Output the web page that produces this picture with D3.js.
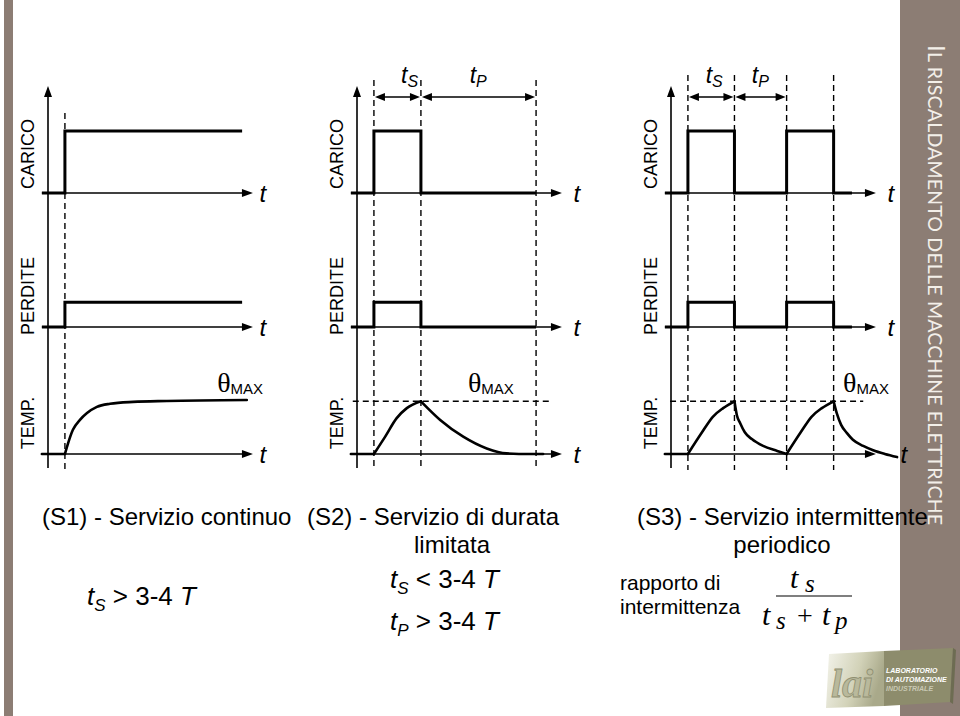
<!DOCTYPE html>
<html><head><meta charset="utf-8">
<script src="https://cdn.jsdelivr.net/npm/d3@7"></script>
<style>html,body{margin:0;padding:0;background:#fff}svg{display:block}</style>
</head><body>
<svg id="c" width="960" height="716"></svg>
<script>
// ---------------- DATA (time in units of ~t_S, levels relative to CARICO=1) ----------------
const rowNames = ["CARICO", "PERDITE", "TEMP."];
const caricoLevel = 1.0;
const perditeLevel = 0.40;
const thetaMax = 0.85;

// switching instants (dashed lines)
const s1Events = [0.36];
const s2Events = [0.36, 1.36, 3.81];
const s3Events = [0.36, 1.35, 2.46, 3.46];

// on/off load profiles (step after)
const s1Load = [[-0.13, 0], [0.36, 1], [4.13, 1]];
const s2Load = [[-0.13, 0], [0.36, 1], [1.36, 0], [3.81, 0]];
const s3Load = [[-0.13, 0], [0.36, 1], [1.35, 0], [2.46, 1], [3.46, 0], [3.85, 0]];

// temperature traces, one array per smooth segment
const s1Temp = [
  [[-0.13, 0], [0.36, 0]],
  [[0.36, 0], [0.43, 0.18], [0.53, 0.39], [0.68, 0.55], [0.83, 0.66], [1.04, 0.76], [1.32, 0.81], [1.81, 0.84], [2.53, 0.855], [4.23, 0.87]]
];
const s2Temp = [
  [[-0.13, 0], [0.36, 0]],
  [[0.36, 0], [0.60, 0.28], [0.84, 0.575], [1.06, 0.74], [1.36, 0.85]],
  [[1.36, 0.85], [1.77, 0.55], [2.26, 0.28], [2.76, 0.09], [3.18, 0.01], [3.68, 0], [3.96, 0]]
];
const s3Temp = [
  [[-0.13, 0], [0.36, 0]],
  [[0.36, 0], [0.66, 0.35], [0.89, 0.60], [1.11, 0.74], [1.35, 0.85]],
  [[1.35, 0.85], [1.40, 0.63], [1.47, 0.50], [1.57, 0.35], [1.72, 0.24], [1.96, 0.13], [2.26, 0.05], [2.46, 0]],
  [[2.46, 0], [2.76, 0.35], [2.99, 0.60], [3.21, 0.74], [3.46, 0.85]],
  [[3.46, 0.85], [3.53, 0.65], [3.62, 0.47], [3.74, 0.34], [3.87, 0.23], [4.09, 0.13], [4.30, 0.06], [4.55, 0], [4.81, -0.05]]
];

// theta_max reference line extents
const s2ThetaLine = [-0.09, 4.15];
const s3ThetaLine = [-0.02, 4.09];

// dimension spans
const s2Spans = [{sub: "S", from: 0.36, to: 1.36, at: 1.12}, {sub: "P", from: 1.36, to: 3.81, at: 2.58}];
const s3Spans = [{sub: "S", from: 0.36, to: 1.35, at: 0.92}, {sub: "P", from: 1.35, to: 2.46, at: 1.90}];

// ---------------- LAYOUT ----------------
const W = 960, H = 716;
const UNIT = 47, AXLEN = 4.36, AXSTART = -0.13;
const rowBase = [193, 327, 454];
const rowAmp = 62;
const rowLabelY = [154, 296, 423];
const ink = "#000";
const SANS = "'Liberation Sans', Arial, Helvetica, sans-serif";
const SERIF = "'Liberation Serif', 'Times New Roman', serif";
const brown = "#8c7d74";

const panels = [
  {x0: 48, load: s1Load, events: s1Events, dashTop: 113, temp: s1Temp, thetaLine: null, thetaAt: 3.6, tDx: [10, 10, 10], spans: []},
  {x0: 357, load: s2Load, events: s2Events, dashTop: 80, temp: s2Temp, thetaLine: s2ThetaLine, thetaAt: 2.36, tDx: [15, 15, 15], spans: s2Spans},
  {x0: 671, load: s3Load, events: s3Events, dashTop: 75, temp: s3Temp, thetaLine: s3ThetaLine, thetaAt: 3.66, tDx: [15, 15, 28], spans: s3Spans}
];

const svg = d3.select("#c");
svg.append("rect").attr("width", W).attr("height", H).attr("fill", "#fff");

// side bars
svg.append("rect").attr("x", 4).attr("y", 0).attr("width", 9).attr("height", H).attr("fill", brown);
svg.append("rect").attr("x", 900).attr("y", 0).attr("width", 60).attr("height", H).attr("fill", brown);
const side = svg.append("text")
  .attr("transform", "translate(928,45) rotate(90)")
  .attr("font-family", "Lato, 'Open Sans', sans-serif")
  .attr("fill", "#f3efe9")
  .attr("textLength", 480).attr("lengthAdjust", "spacing");
side.append("tspan").attr("font-size", 24).text("I");
side.append("tspan").attr("font-size", 19.5).text("L RISCALDAMENTO DELLE MACCHINE ELETTRICHE");

// ---------------- PANELS ----------------
panels.forEach(p => {
  const x = d3.scaleLinear().domain([0, AXLEN]).range([p.x0, p.x0 + AXLEN * UNIT]);
  const g = svg.append("g");

  // dashed vertical lines
  g.selectAll(".dv").data(p.events).enter().append("line")
    .attr("x1", d => x(d)).attr("x2", d => x(d))
    .attr("y1", p.dashTop).attr("y2", 470)
    .attr("stroke", ink).attr("stroke-width", 1.4).attr("stroke-dasharray", "6,4");

  // vertical axis with arrow
  g.append("line").attr("x1", p.x0).attr("x2", p.x0).attr("y1", 468).attr("y2", 94)
    .attr("stroke", ink).attr("stroke-width", 1.6);
  g.append("path").attr("d", `M${p.x0},86 L${p.x0 - 4},97 L${p.x0 + 4},97 Z`).attr("fill", ink);

  rowBase.forEach((b, i) => {
    const y = d3.scaleLinear().domain([0, 1]).range([b, b - rowAmp]);
    const tip = x(AXLEN);
    // horizontal axis
    g.append("line").attr("x1", x(AXSTART)).attr("x2", tip - 6).attr("y1", b).attr("y2", b)
      .attr("stroke", ink).attr("stroke-width", 1.6);
    g.append("path").attr("d", `M${tip},${b} L${tip - 11},${b - 4} L${tip - 11},${b + 4} Z`).attr("fill", ink);
    // t label
    g.append("text").attr("x", tip + p.tDx[i]).attr("y", b + 9)
      .attr("text-anchor", "middle").attr("font-family", SANS).attr("font-style", "italic")
      .attr("font-size", 24).text("t");
    // row label
    g.append("text").attr("transform", `translate(${p.x0 - 14},${rowLabelY[i]}) rotate(-90)`)
      .attr("text-anchor", "middle").attr("font-family", SANS).attr("font-size", 18).text(rowNames[i]);

    if (i < 2) {
      const lvl = i === 0 ? caricoLevel : perditeLevel;
      const line = d3.line().x(d => x(d[0])).y(d => y(d[1] * lvl)).curve(d3.curveStepAfter);
      g.append("path").attr("d", line(p.load)).attr("fill", "none")
        .attr("stroke", ink).attr("stroke-width", 3).attr("stroke-linejoin", "miter");
    } else {
      if (p.thetaLine) {
        g.append("line").attr("x1", x(p.thetaLine[0])).attr("x2", x(p.thetaLine[1]))
          .attr("y1", y(thetaMax)).attr("y2", y(thetaMax))
          .attr("stroke", ink).attr("stroke-width", 1.4).attr("stroke-dasharray", "6,4");
      }
      const line = d3.line().x(d => x(d[0])).y(d => y(d[1])).curve(d3.curveMonotoneX);
      g.selectAll(".tc").data(p.temp).enter().append("path")
        .attr("d", d => line(d)).attr("fill", "none")
        .attr("stroke", ink).attr("stroke-width", 2.6).attr("stroke-linecap", "round");
      // theta max label
      const tl = g.append("text").attr("x", x(p.thetaAt)).attr("y", b - 62)
        .attr("fill", ink);
      tl.append("tspan").attr("font-family", SERIF).attr("font-size", 28).text("θ");
      tl.append("tspan").attr("font-family", SANS).attr("font-size", 15).attr("dy", 2).text("MAX");
    }
  });

  // dimension arrows
  const ay = 97;
  p.spans.forEach(s => {
    const a = x(s.from) + 1, c = x(s.to) - 1;
    g.append("line").attr("x1", a + 6).attr("x2", c - 6).attr("y1", ay).attr("y2", ay)
      .attr("stroke", ink).attr("stroke-width", 1.5);
    g.append("path").attr("d", `M${a},${ay} L${a + 10},${ay - 4} L${a + 10},${ay + 4} Z`).attr("fill", ink);
    g.append("path").attr("d", `M${c},${ay} L${c - 10},${ay - 4} L${c - 10},${ay + 4} Z`).attr("fill", ink);
    const t = g.append("text").attr("x", x(s.at)).attr("y", 83).attr("text-anchor", "middle")
      .attr("font-family", SANS).attr("font-style", "italic");
    t.append("tspan").attr("font-size", 23).text("t");
    t.append("tspan").attr("font-size", 16).attr("dy", 4).text(s.sub);
  });
});

// ---------------- TEXT BELOW ----------------
function txt(x, y, s, size, anchor) {
  return svg.append("text").attr("x", x).attr("y", y).attr("font-family", SANS)
    .attr("font-size", size).attr("text-anchor", anchor || "start").attr("fill", ink).text(s);
}
txt(42, 525, "(S1) - Servizio continuo", 24);
txt(307, 525, "(S2) - Servizio di durata", 24);
txt(452, 553, "limitata", 24, "middle");
txt(637, 525, "(S3) - Servizio intermittente", 24);
txt(782, 553, "periodico", 24, "middle");
txt(620, 590, "rapporto di", 21);
txt(620, 614, "intermittenza", 21);

function cond(x, y, sub, rel) {
  const t = svg.append("text").attr("x", x).attr("y", y).attr("font-family", SANS).attr("fill", ink);
  t.append("tspan").attr("font-style", "italic").attr("font-size", 26).text("t");
  t.append("tspan").attr("font-style", "italic").attr("font-size", 17).attr("dy", 6).text(sub);
  t.append("tspan").attr("font-size", 26).attr("dy", -6).text(" " + rel + " 3-4 ");
  t.append("tspan").attr("font-style", "italic").attr("font-size", 26).text("T");
}
cond(87, 605, "S", ">");
cond(390, 588, "S", "<");
cond(390, 630, "P", ">");

// fraction t_s / (t_s + t_p)
function mathGlyph(x, y, s, size, italic) {
  svg.append("text").attr("x", x).attr("y", y).attr("font-family", SERIF)
    .attr("font-style", italic ? "italic" : "normal").attr("font-size", size).attr("fill", ink).text(s);
}
mathGlyph(790, 588, "t", 30, true);
mathGlyph(805, 592, "s", 25, true);
svg.append("line").attr("x1", 776).attr("x2", 852).attr("y1", 596).attr("y2", 596).attr("stroke", ink).attr("stroke-width", 1.2);
mathGlyph(762, 625, "t", 30, true);
mathGlyph(776, 629, "s", 25, true);
mathGlyph(797, 625, "+", 28, false);
mathGlyph(822, 625, "t", 30, true);
mathGlyph(835, 629, "p", 25, true);

// ---------------- LOGO ----------------
const defs = svg.append("defs");
const lg = defs.append("linearGradient").attr("id", "lg").attr("x1", "0").attr("x2", "1").attr("y1", "0").attr("y2", "0.3");
lg.append("stop").attr("offset", "0").attr("stop-color", "#f4f4ec");
lg.append("stop").attr("offset", "0.6").attr("stop-color", "#d2d2b8");
lg.append("stop").attr("offset", "1").attr("stop-color", "#a9a98a");
const logo = svg.append("g");
logo.append("path").attr("d", "M829,654 L884,651 L884,706 L826,708 Z").attr("fill", "url(#lg)");
logo.append("path").attr("d", "M884,651 L953,648 L950,702 L884,706 Z").attr("fill", "#8d8c6c");
logo.append("path").attr("d", "M953,648 L956,650 L953,704 L950,702 Z").attr("fill", "#6d6c52");
logo.append("text").attr("x", 831).attr("y", 697).attr("font-family", SERIF).attr("font-style", "italic")
  .attr("font-weight", "bold").attr("font-size", 40).attr("fill", "#b9b99c").attr("stroke", "#8f8f72").attr("stroke-width", 0.8).text("lai");
[["LABORATORIO", 673], ["DI AUTOMAZIONE", 682], ["INDUSTRIALE", 691]].forEach((d, i) => {
  logo.append("text").attr("x", 886).attr("y", d[1]).attr("font-family", SANS).attr("font-weight", "bold")
    .attr("font-style", "italic").attr("font-size", 7).attr("fill", i === 2 ? "#c9c9b5" : "#ffffff").text(d[0]);
});
</script>
</body></html>
